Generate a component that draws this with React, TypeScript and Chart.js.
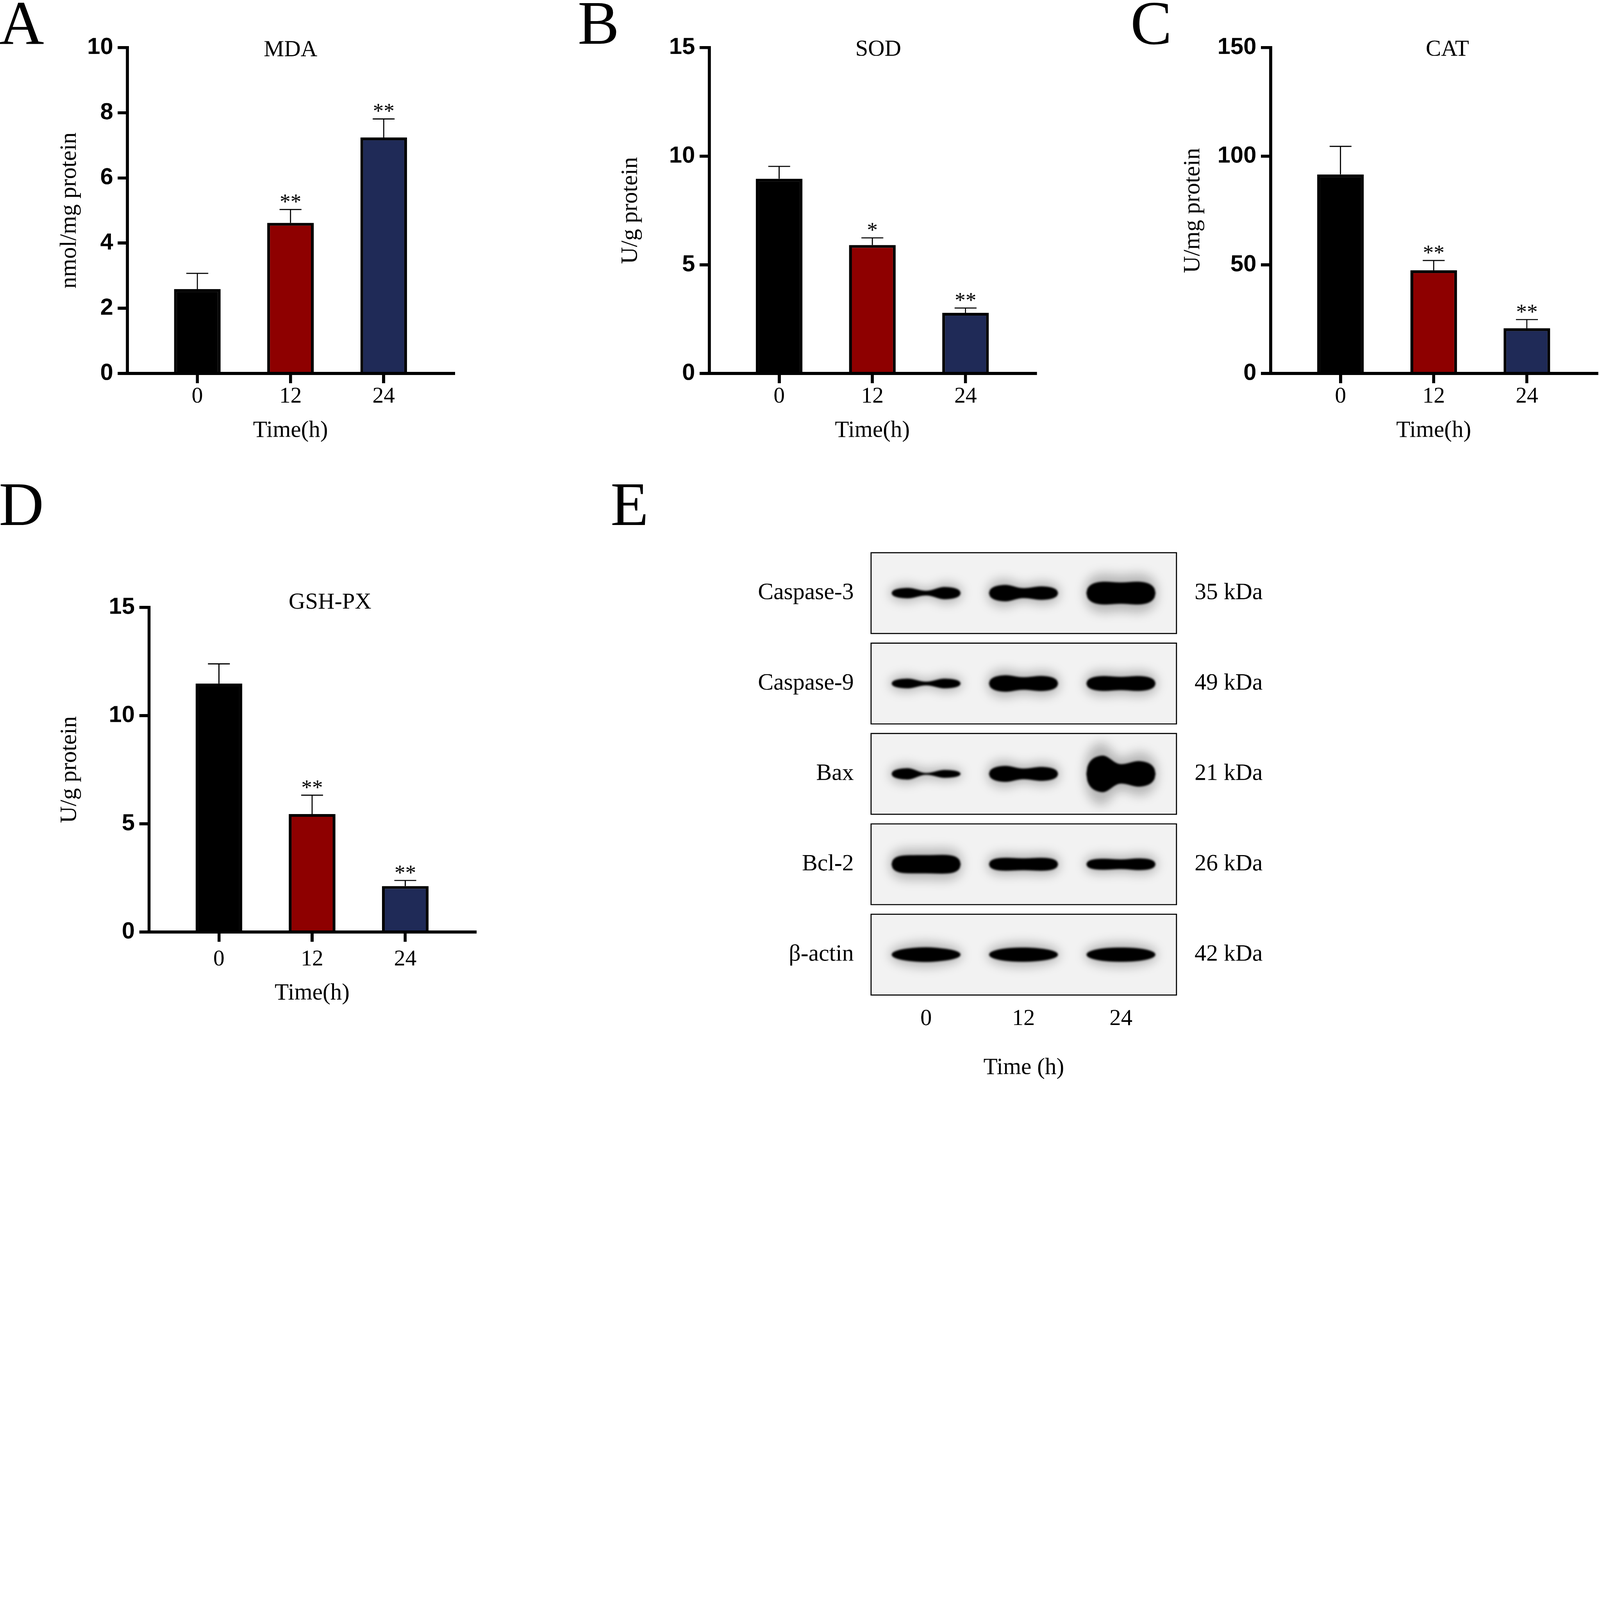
import React, { useEffect, useRef, useState } from 'react';
import { Chart, registerables } from 'chart.js';

Chart.register(...registerables);

// ---------------- data ----------------
const TIME_POINTS = ['0', '12', '24'];

const MDA_MEAN = [2.59, 4.62, 7.24];
const MDA_SD = [0.48, 0.41, 0.57];
const MDA_SIG = ['', '**', '**'];

const SOD_MEAN = [8.96, 5.91, 2.79];
const SOD_SD = [0.57, 0.33, 0.22];
const SOD_SIG = ['', '*', '**'];

const CAT_MEAN = [91.6, 47.5, 20.8];
const CAT_SD = [12.9, 4.5, 4.0];
const CAT_SIG = ['', '**', '**'];

const GSH_MEAN = [11.48, 5.45, 2.12];
const GSH_SD = [0.91, 0.87, 0.26];
const GSH_SIG = ['', '**', '**'];

const BLOT_PROTEINS = ['Caspase-3', 'Caspase-9', 'Bax', 'Bcl-2', 'β-actin'];
const BLOT_KDA = ['35 kDa', '49 kDa', '21 kDa', '26 kDa', '42 kDa'];
// relative band signal per lane (0 h, 12 h, 24 h): [left lobe, centre, right lobe]
const CASP3_BANDS = [[0.45, 0.2, 0.53], [0.71, 0.42, 0.58], [0.98, 0.9, 0.98]];
const CASP9_BANDS = [[0.42, 0.16, 0.42], [0.71, 0.53, 0.65], [0.64, 0.56, 0.64]];
const BAX_BANDS = [[0.49, 0.08, 0.34], [0.69, 0.45, 0.6], [1.58, 0.82, 1.1]];
const BCL2_BANDS = [[0.77, 0.77, 0.8], [0.55, 0.5, 0.55], [0.47, 0.41, 0.5]];
const ACTIN_BANDS = [[0.6, 0.62, 0.58], [0.6, 0.6, 0.58], [0.6, 0.6, 0.6]];
const BLOT_BANDS = [CASP3_BANDS, CASP9_BANDS, BAX_BANDS, BCL2_BANDS, ACTIN_BANDS];

// ---------------- style ----------------
const PAGE_W = 7408;
const PAGE_H = 5012;
const SERIF = '"Liberation Serif", "Times New Roman", Times, serif';
const SANS = '"Liberation Sans", Arial, Helvetica, sans-serif';
const BAR_COLORS = ['#000000', '#8E0000', '#1F2A57'];
const AXIS_W = 14;
const X_MIN = -0.75;
const X_MAX = 2.75;
const AXIS_LEN = 1510;

const BLOT_BG = '#f2f2f2';
const FRAME_HALF = 0.447;
const BAND_THICK = 0.263; // row units per unit of signal
const BAND_HALF_W = 0.355; // lane units
const BAND_POW = [5, 5, 5, 6, 2.2];

type PanelSpec = {
  key: string;
  title: string;
  yLabel: string;
  mean: number[];
  sd: number[];
  sig: string[];
  yMax: number;
  yStep: number;
  canvas: { x: number; y: number; w: number; h: number };
  area: { left: number; top: number; bottom: number };
  yTitlePad: number;
  xTickPad: number;
  titleFrac: number;
  titleDy: number;
};

const PANELS: PanelSpec[] = [
  {
    key: 'A', title: 'MDA', yLabel: 'nmol/mg protein', mean: MDA_MEAN, sd: MDA_SD, sig: MDA_SIG,
    yMax: 10, yStep: 2,
    canvas: { x: 150, y: 60, w: 2000, h: 1999 }, area: { left: 590, top: 220, bottom: 1729 },
    yTitlePad: 108, xTickPad: 0, titleFrac: 0.5, titleDy: 12,
  },
  {
    key: 'B', title: 'SOD', yLabel: 'U/g protein', mean: SOD_MEAN, sd: SOD_SD, sig: SOD_SIG,
    yMax: 15, yStep: 5,
    canvas: { x: 2700, y: 60, w: 2160, h: 1999 }, area: { left: 3284, top: 220, bottom: 1729 },
    yTitlePad: 156, xTickPad: 0, titleFrac: 0.518, titleDy: 10,
  },
  {
    key: 'C', title: 'CAT', yLabel: 'U/mg protein', mean: CAT_MEAN, sd: CAT_SD, sig: CAT_SIG,
    yMax: 150, yStep: 50,
    canvas: { x: 5300, y: 60, w: 2108, h: 1999 }, area: { left: 5883, top: 220, bottom: 1729 },
    yTitlePad: 160, xTickPad: 0, titleFrac: 0.542, titleDy: 10,
  },
  {
    key: 'D', title: 'GSH-PX', yLabel: 'U/g protein', mean: GSH_MEAN, sd: GSH_SD, sig: GSH_SIG,
    yMax: 15, yStep: 5,
    canvas: { x: 150, y: 2650, w: 2100, h: 2014 }, area: { left: 690, top: 2812, bottom: 4315 },
    yTitlePad: 109, xTickPad: 20, titleFrac: 0.555, titleDy: -22,
  },
];

const LETTERS = [
  { t: 'A', x: -4, base: 203 },
  { t: 'B', x: 2675, base: 203 },
  { t: 'C', x: 5234, base: 203 },
  { t: 'D', x: -5, base: 2431 },
  { t: 'E', x: 2827, base: 2431 },
];

function makeBarExtras(spec: PanelSpec) {
  return {
    id: 'barExtras' + spec.key,
    afterDatasetsDraw(chart: any) {
      const { ctx, chartArea } = chart;
      const meta = chart.getDatasetMeta(0);
      const ys = chart.scales.y;
      ctx.save();
      ctx.strokeStyle = '#000';
      ctx.fillStyle = '#000';
      ctx.lineWidth = 5;
      ctx.lineCap = 'butt';
      meta.data.forEach((bar: any, i: number) => {
        const yBar = ys.getPixelForValue(spec.mean[i]);
        const yTop = ys.getPixelForValue(spec.mean[i] + spec.sd[i]);
        const half = (bar.width * 0.47) / 2;
        ctx.beginPath();
        ctx.moveTo(bar.x, yBar);
        ctx.lineTo(bar.x, yTop);
        ctx.moveTo(bar.x - half, yTop);
        ctx.lineTo(bar.x + half, yTop);
        ctx.stroke();
        if (spec.sig[i]) {
          ctx.font = `100px ${SERIF}`;
          ctx.textAlign = 'center';
          ctx.textBaseline = 'alphabetic';
          ctx.fillText(spec.sig[i], bar.x, yTop - 4);
        }
      });
      ctx.font = `106px ${SERIF}`;
      ctx.textAlign = 'center';
      ctx.textBaseline = 'middle';
      ctx.fillText(
        spec.title,
        chartArea.left + spec.titleFrac * (chartArea.right - chartArea.left),
        chartArea.top + spec.titleDy,
      );
      ctx.restore();
    },
  };
}

function buildBarConfig(spec: PanelSpec): any {
  const { canvas, area } = spec;
  return {
    type: 'bar',
    data: {
      datasets: [
        {
          data: spec.mean.map((v, i) => ({ x: i, y: v })),
          backgroundColor: BAR_COLORS,
          borderColor: '#000',
          borderWidth: 13,
          barPercentage: 0.5,
          categoryPercentage: 1,
        },
      ],
    },
    options: {
      responsive: false,
      animation: false,
      events: [],
      layout: {
        autoPadding: false,
        padding: {
          left: 0,
          top: area.top - canvas.y,
          right: canvas.x + canvas.w - (area.left + AXIS_LEN),
          bottom: 0,
        },
      },
      plugins: { legend: { display: false }, tooltip: { enabled: false }, title: { display: false } },
      scales: {
        x: {
          type: 'linear',
          min: X_MIN,
          max: X_MAX,
          offset: false,
          afterBuildTicks: (s: any) => {
            s.ticks = TIME_POINTS.map((_, i) => ({ value: i }));
          },
          afterFit: (s: any) => {
            s.height = canvas.y + canvas.h - area.bottom;
          },
          grid: {
            display: true, drawOnChartArea: false, drawTicks: true, offset: false,
            tickLength: 45, tickWidth: AXIS_W, tickColor: '#000', lineWidth: AXIS_W, color: '#000',
          },
          border: { display: true, color: '#000', width: AXIS_W },
          ticks: {
            padding: spec.xTickPad, color: '#000', autoSkip: false, maxRotation: 0, minRotation: 0,
            font: { family: SERIF, size: 104 },
            callback: (v: any) => TIME_POINTS[Math.round(Number(v))] ?? '',
          },
          title: {
            display: true, text: 'Time(h)', color: '#000',
            font: { family: SERIF, size: 107 }, padding: { top: 0, bottom: 0 },
          },
        },
        y: {
          type: 'linear',
          min: 0,
          max: spec.yMax,
          afterFit: (s: any) => {
            s.width = area.left - canvas.x;
          },
          grid: {
            display: true, drawOnChartArea: false, drawTicks: true,
            tickLength: 45, tickWidth: AXIS_W, tickColor: '#000', lineWidth: AXIS_W, color: '#000',
          },
          border: { display: true, color: '#000', width: AXIS_W },
          ticks: {
            stepSize: spec.yStep, padding: 21, color: '#000', autoSkip: false,
            font: { family: SANS, size: 108, weight: 'bold' },
          },
          title: {
            display: true, text: spec.yLabel, color: '#000',
            font: { family: SERIF, size: 108 }, padding: { top: spec.yTitlePad, bottom: 0 },
          },
        },
      },
    },
    plugins: [makeBarExtras(spec)],
  };
}

function BarPanel({ spec }: { spec: PanelSpec }) {
  const ref = useRef<HTMLCanvasElement>(null);
  useEffect(() => {
    const chart = new Chart(ref.current as HTMLCanvasElement, buildBarConfig(spec));
    return () => chart.destroy();
  }, [spec]);
  const { x, y, w, h } = spec.canvas;
  return (
    <canvas
      ref={ref}
      width={w}
      height={h}
      style={{ position: 'absolute', left: x, top: y, width: w, height: h }}
    />
  );
}

// ---------------- western blot panel ----------------
function bandPath(ctx: CanvasRenderingContext2D, cx: number, cy: number, halfW: number,
  tL: number, tM: number, tR: number, pow: number) {
  const N = 72;
  const top: number[][] = [];
  const bot: number[][] = [];
  for (let i = 0; i <= N; i++) {
    const u = i / N;
    let p: number;
    if (u <= 0.22) p = tL;
    else if (u <= 0.5) {
      const s = (u - 0.22) / 0.28;
      p = tL + ((tM - tL) * (1 - Math.cos(Math.PI * s))) / 2;
    } else if (u <= 0.78) {
      const s = (u - 0.5) / 0.28;
      p = tM + ((tR - tM) * (1 - Math.cos(Math.PI * s))) / 2;
    } else p = tR;
    const e = Math.sqrt(Math.max(0, 1 - Math.pow(Math.abs(2 * u - 1), pow)));
    const hh = (p * e) / 2;
    const x = cx - halfW + 2 * halfW * u;
    top.push([x, cy - hh]);
    bot.push([x, cy + hh]);
  }
  ctx.beginPath();
  ctx.moveTo(top[0][0], top[0][1]);
  top.forEach(([x, y]) => ctx.lineTo(x, y));
  for (let i = bot.length - 1; i >= 0; i--) ctx.lineTo(bot[i][0], bot[i][1]);
  ctx.closePath();
}

const blotPlugin = {
  id: 'blotBands',
  beforeDatasetsDraw(chart: any) {
    const { ctx } = chart;
    const xs = chart.scales.x;
    const ys = chart.scales.y;
    const meta = chart.getDatasetMeta(0);
    const raw = chart.data.datasets[0].data as any[];
    const unitY = Math.abs(ys.getPixelForValue(1) - ys.getPixelForValue(0));
    const unitX = Math.abs(xs.getPixelForValue(1) - xs.getPixelForValue(0));
    const left = xs.getPixelForValue(xs.min);
    const right = xs.getPixelForValue(xs.max);
    const frame = (r: number) => {
      const a = ys.getPixelForValue(r - FRAME_HALF);
      const b = ys.getPixelForValue(r + FRAME_HALF);
      return [Math.min(a, b), Math.max(a, b)];
    };
    ctx.save();
    BLOT_PROTEINS.forEach((_, r) => {
      const [t, b] = frame(r);
      ctx.fillStyle = BLOT_BG;
      ctx.fillRect(left, t, right - left, b - t);
    });
    meta.data.forEach((el: any, i: number) => {
      const d = raw[i];
      const [t, b] = frame(d.y);
      const tk = d.signal.map((s: number) => s * BAND_THICK * unitY);
      const pow = BAND_POW[d.y];
      ctx.save();
      ctx.beginPath();
      ctx.rect(left, t, right - left, b - t);
      ctx.clip();
      ctx.filter = 'blur(24px)';
      ctx.fillStyle = 'rgba(0,0,0,0.24)';
      bandPath(ctx, el.x, el.y, BAND_HALF_W * unitX * 1.05, tk[0] * 1.7, Math.max(tk[1], 0.5 * tk[0]) * 1.7, tk[2] * 1.7, pow);
      ctx.fill();
      ctx.filter = 'blur(4px)';
      ctx.fillStyle = '#000';
      bandPath(ctx, el.x, el.y, BAND_HALF_W * unitX, tk[0], tk[1], tk[2], pow);
      ctx.fill();
      ctx.restore();
    });
    ctx.filter = 'none';
    ctx.lineWidth = 5;
    ctx.strokeStyle = '#000';
    BLOT_PROTEINS.forEach((_, r) => {
      const [t, b] = frame(r);
      ctx.strokeRect(left, t, right - left, b - t);
    });
    ctx.restore();
  },
};

const E_CANVAS = { x: 3400, y: 2399, w: 2500, h: 2610 };
const E_AREA = { left: 4033, right: 5447, top: 2559, bottom: 4607 };

function buildBlotConfig(): any {
  const points = BLOT_BANDS.flatMap((row, r) => row.map((sig, lane) => ({ x: lane, y: r, signal: sig })));
  const rowTicks = (s: any) => {
    s.ticks = BLOT_PROTEINS.map((_, i) => ({ value: i }));
  };
  const serif = (size: number) => ({ family: SERIF, size });
  return {
    type: 'scatter',
    data: { datasets: [{ data: points, pointRadius: 0, pointHoverRadius: 0, showLine: false }] },
    options: {
      responsive: false,
      animation: false,
      events: [],
      layout: { autoPadding: false, padding: { left: 0, right: 0, bottom: 0, top: E_AREA.top - E_CANVAS.y } },
      plugins: { legend: { display: false }, tooltip: { enabled: false } },
      scales: {
        x: {
          type: 'linear', min: -0.565, max: 2.57, offset: false,
          afterBuildTicks: (s: any) => {
            s.ticks = TIME_POINTS.map((_, i) => ({ value: i }));
          },
          afterFit: (s: any) => {
            s.height = E_CANVAS.y + E_CANVAS.h - E_AREA.bottom;
          },
          grid: { display: false, drawTicks: false },
          border: { display: false },
          ticks: {
            padding: 48, color: '#000', autoSkip: false, maxRotation: 0, font: serif(106),
            callback: (v: any) => TIME_POINTS[Math.round(Number(v))] ?? '',
          },
          title: { display: true, text: 'Time (h)', color: '#000', font: serif(107), padding: { top: 0, bottom: 0 } },
        },
        y: {
          type: 'linear', position: 'left', reverse: true, min: -FRAME_HALF, max: 4 + FRAME_HALF,
          afterBuildTicks: rowTicks,
          afterFit: (s: any) => {
            s.width = E_AREA.left - E_CANVAS.x;
          },
          grid: { display: false, drawTicks: false },
          border: { display: false },
          ticks: {
            padding: 80, color: '#000', autoSkip: false, font: serif(108),
            callback: (v: any) => BLOT_PROTEINS[Math.round(Number(v))] ?? '',
          },
        },
        y2: {
          type: 'linear', axis: 'y', position: 'right', reverse: true, min: -FRAME_HALF, max: 4 + FRAME_HALF,
          afterBuildTicks: rowTicks,
          afterFit: (s: any) => {
            s.width = E_CANVAS.x + E_CANVAS.w - E_AREA.right;
          },
          grid: { display: false, drawTicks: false },
          border: { display: false },
          ticks: {
            padding: 84, color: '#000', autoSkip: false, font: serif(108),
            callback: (v: any) => BLOT_KDA[Math.round(Number(v))] ?? '',
          },
        },
      },
    },
    plugins: [blotPlugin],
  };
}

function BlotPanel() {
  const ref = useRef<HTMLCanvasElement>(null);
  useEffect(() => {
    const chart = new Chart(ref.current as HTMLCanvasElement, buildBlotConfig());
    return () => chart.destroy();
  }, []);
  const { x, y, w, h } = E_CANVAS;
  return (
    <canvas
      ref={ref}
      width={w}
      height={h}
      style={{ position: 'absolute', left: x, top: y, width: w, height: h }}
    />
  );
}

function fitScale() {
  if (typeof window === 'undefined') return 1;
  const w = window.innerWidth || PAGE_W;
  const h = window.innerHeight || PAGE_H;
  return Math.min(1, w / PAGE_W, h / PAGE_H);
}

export default function App() {
  const [scale, setScale] = useState(fitScale());
  useEffect(() => {
    const onResize = () => setScale(fitScale());
    window.addEventListener('resize', onResize);
    return () => window.removeEventListener('resize', onResize);
  }, []);
  return (
    <div
      style={{
        position: 'absolute', left: 0, top: 0, width: PAGE_W, height: PAGE_H,
        background: '#ffffff', overflow: 'hidden',
        transform: `scale(${scale})`, transformOrigin: '0 0',
      }}
    >
      {LETTERS.map((l) => (
        <div
          key={l.t}
          style={{
            position: 'absolute', left: l.x, top: l.base - 241, fontFamily: SERIF,
            fontSize: 288, lineHeight: '288px', color: '#000', whiteSpace: 'nowrap',
          }}
        >
          {l.t}
        </div>
      ))}
      {PANELS.map((p) => (
        <BarPanel key={p.key} spec={p} />
      ))}
      <BlotPanel />
    </div>
  );
}
